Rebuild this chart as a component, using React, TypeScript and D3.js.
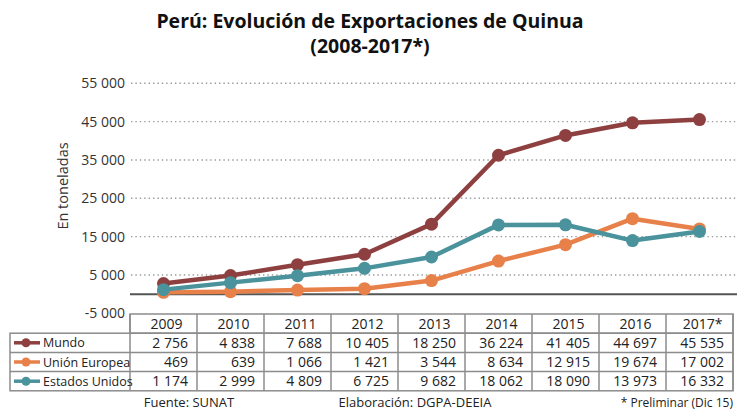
import React from "react";
import * as d3 from "d3";

const years = ["2009", "2010", "2011", "2012", "2013", "2014", "2015", "2016", "2017*"];
const mundo = [2756, 4838, 7688, 10405, 18250, 36224, 41405, 44697, 45535];
const unionEuropea = [469, 639, 1066, 1421, 3544, 8634, 12915, 19674, 17002];
const estadosUnidos = [1174, 2999, 4809, 6725, 9682, 18062, 18090, 13973, 16332];
const seriesNames = ["Mundo", "Unión Europea", "Estados Unidos"];
const seriesColors = ["#8e4040", "#e8804a", "#4a939c"];
const yTicks = [-5000, 5000, 15000, 25000, 35000, 45000, 55000];

const W = 737;
const H = 412;
const FONT = "'Open Sans', sans-serif";

const locale = d3.formatLocale({
  decimal: ",",
  thousands: "\u00a0",
  grouping: [3],
  currency: ["", ""],
  minus: "-",
});
const fmt = locale.format(",d");

export default function App() {
  const series = [mundo, unionEuropea, estadosUnidos];
  const x = d3.scaleBand<string>().domain(years).range([130, 733]).padding(0);
  const bw = x.bandwidth();
  const cx = (yr: string) => (x(yr) as number) + bw / 2;
  const y = d3.scaleLinear().domain([-5000, 55000]).range([313.3, 83.3]);

  const line = d3
    .line<number>()
    .x((_, i) => cx(years[i]))
    .y((d) => y(d));

  const tableTop = 314;
  const rowH = 19.2;
  const tableRight = 733;
  const legendLeft = 10;
  const border = "#8c8c8c";

  return (
    <svg
      width={W}
      height={H}
      style={{ position: "absolute", left: 0, top: 0, background: "#fff" }}
      fontFamily={FONT}
    >
      <text x={370} y={28} textAnchor="middle" fontSize={19.5} fontWeight="bold" fill="#111">
        Perú: Evolución de Exportaciones de Quinua
      </text>
      <text x={370} y={53} textAnchor="middle" fontSize={19.5} fontWeight="bold" fill="#111">
        (2008-2017*)
      </text>

      {yTicks
        .filter((t) => t > 0)
        .map((t) => (
          <line
            key={t}
            x1={131}
            x2={W}
            y1={y(t)}
            y2={y(t)}
            stroke="#9a9a9a"
            strokeWidth={1.4}
            strokeDasharray="1.4,3"
          />
        ))}
      {yTicks.map((t) => (
        <text key={t} x={125} y={y(t)} dy="0.35em" textAnchor="end" fontSize={14} fill="#333">
          {fmt(t)}
        </text>
      ))}
      <line x1={130} x2={W} y1={y(0)} y2={y(0)} stroke="#555" strokeWidth={2} />

      <text
        transform={`translate(63,${186}) rotate(-90)`}
        textAnchor="middle"
        dy="0.35em"
        fontSize={14.5}
        fill="#333"
      >
        En toneladas
      </text>

      {series.map((s, si) => (
        <g key={si}>
          <path d={line(s) || ""} fill="none" stroke={seriesColors[si]} strokeWidth={4.5} strokeLinejoin="round" />
          {s.map((v, i) => (
            <circle key={i} cx={cx(years[i])} cy={y(v)} r={6.5} fill={seriesColors[si]} />
          ))}
        </g>
      ))}

      <g>
        <rect x={130} y={tableTop} width={tableRight - 130} height={rowH} fill="none" stroke={border} strokeWidth={1.5} />
        <rect
          x={legendLeft}
          y={tableTop + rowH}
          width={tableRight - legendLeft}
          height={rowH * 3}
          fill="none"
          stroke={border}
          strokeWidth={1.5}
        />
        {[1, 2].map((r) => (
          <line
            key={r}
            x1={legendLeft}
            x2={tableRight}
            y1={tableTop + rowH * (r + 1)}
            y2={tableTop + rowH * (r + 1)}
            stroke={border}
            strokeWidth={1.5}
          />
        ))}
        {years.map((yr) => (
          <line
            key={yr}
            x1={(x(yr) as number) + bw}
            x2={(x(yr) as number) + bw}
            y1={tableTop}
            y2={tableTop + rowH * 4}
            stroke={border}
            strokeWidth={1.5}
          />
        ))}
        <line x1={130} x2={130} y1={tableTop} y2={tableTop + rowH * 4} stroke={border} strokeWidth={1.5} />

        {years.map((yr) => (
          <text
            key={yr}
            x={cx(yr) + 3}
            y={tableTop + rowH / 2}
            dy="0.36em"
            textAnchor="middle"
            fontSize={14}
            fill="#222"
          >
            {yr}
          </text>
        ))}
        {series.map((s, si) => (
          <g key={si}>
            <line
              x1={14}
              x2={40}
              y1={tableTop + rowH * (si + 1.5)}
              y2={tableTop + rowH * (si + 1.5)}
              stroke={seriesColors[si]}
              strokeWidth={3.5}
            />
            <circle cx={26} cy={tableTop + rowH * (si + 1.5)} r={4.5} fill={seriesColors[si]} />
            <text x={43} y={tableTop + rowH * (si + 1.5)} dy="0.36em" fontSize={12.5} fill="#222">
              {seriesNames[si]}
            </text>
            {s.map((v, i) => (
              <text
                key={i}
                x={(x(years[i]) as number) + bw - 9}
                y={tableTop + rowH * (si + 1.5)}
                dy="0.36em"
                textAnchor="end"
                fontSize={14}
                fill="#222"
              >
                {fmt(v)}
              </text>
            ))}
          </g>
        ))}
      </g>

      <text x={189} y={402.5} dy="0.35em" textAnchor="middle" fontSize={13} fill="#222">
        Fuente: SUNAT
      </text>
      <text x={415} y={402.5} dy="0.35em" textAnchor="middle" fontSize={13} fill="#222">
        Elaboración: DGPA-DEEIA
      </text>
      <text x={733} y={402.5} dy="0.35em" textAnchor="end" fontSize={12} fill="#222">
        * Preliminar (Dic 15)
      </text>
    </svg>
  );
}
